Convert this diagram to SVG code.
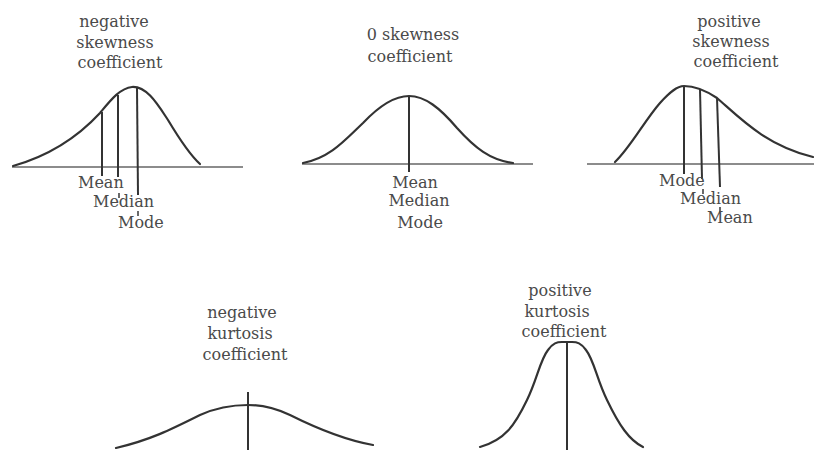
<svg xmlns="http://www.w3.org/2000/svg" width="814" height="450" viewBox="0 0 814 450">
<style>
text{font-family:"DejaVu Serif","Liberation Serif",serif;font-size:16px;fill:#4a4a4a}
.c{text-anchor:middle}
.curve{fill:none;stroke:#333;stroke-width:2.2;stroke-linecap:round}
.axis{fill:none;stroke:#666;stroke-width:1.3}
.v{fill:none;stroke:#333;stroke-width:2}
.t{fill:none;stroke:#444;stroke-width:1.6}
</style>
<rect width="814" height="450" fill="#fff"/>
<g id="neg-skew">
<text class="c" x="114" y="27">negative</text>
<text class="c" x="115" y="48">skewness</text>
<text class="c" x="120" y="68">coefficient</text>
<line class="axis" x1="12" y1="167" x2="243" y2="167"/>
<path class="curve" d="M13,166 C45,157 75,140 100,113 C110,101 120,88 132,87 C147,86 158,105 168,120 C180,140 190,155 200,164"/>
<line class="v" x1="102" y1="112" x2="102" y2="176"/>
<line class="v" x1="118" y1="95" x2="118" y2="177"/>
<line class="v" x1="137" y1="88" x2="138" y2="195"/>
<text x="78" y="188">Mean</text>
<line class="t" x1="119" y1="193" x2="119" y2="198"/>
<text x="93" y="207">Median</text>
<line class="t" x1="138" y1="211" x2="138" y2="216"/>
<text x="118" y="228">Mode</text>
</g>
<g id="zero-skew">
<text class="c" x="413" y="40">0 skewness</text>
<text class="c" x="410" y="62">coefficient</text>
<line class="axis" x1="302" y1="164" x2="533" y2="164"/>
<path class="curve" d="M303,163 C330,158 345,140 363,123 C380,105 395,96 409,96 C425,96 440,108 457,128 C475,148 490,160 513,163"/>
<line class="v" x1="409" y1="96" x2="409" y2="172"/>
<text class="c" x="415" y="188">Mean</text>
<text class="c" x="419" y="206">Median</text>
<text class="c" x="420" y="228">Mode</text>
</g>
<g id="pos-skew">
<text class="c" x="729" y="27">positive</text>
<text class="c" x="731" y="47">skewness</text>
<text class="c" x="736" y="67">coefficient</text>
<line class="axis" x1="587" y1="164" x2="814" y2="164"/>
<path class="curve" d="M615,162 C630,148 645,120 660,103 C670,92 677,86 684,86 C695,86 705,90 717,98 C740,118 765,145 813,157"/>
<line class="v" x1="684" y1="86" x2="684" y2="174"/>
<line class="v" x1="700" y1="89" x2="702" y2="179"/>
<line class="v" x1="717" y1="98" x2="720" y2="187"/>
<text x="659" y="186">Mode</text>
<line class="t" x1="703" y1="189" x2="703" y2="194"/>
<text x="680" y="204">Median</text>
<line class="t" x1="720" y1="207" x2="720" y2="212"/>
<text x="707" y="223">Mean</text>
</g>
<g id="neg-kurt">
<text class="c" x="242" y="318">negative</text>
<text class="c" x="240" y="339">kurtosis</text>
<text class="c" x="245" y="360">coefficient</text>
<path class="curve" d="M116,448 C150,440 170,430 200,415 C220,406 235,405 248,405 C262,405 275,408 290,415 C320,430 345,440 373,445"/>
<line class="v" x1="248" y1="392" x2="248" y2="450"/>
</g>
<g id="pos-kurt">
<text class="c" x="560" y="296">positive</text>
<text class="c" x="557" y="317">kurtosis</text>
<text class="c" x="564" y="337">coefficient</text>
<path class="curve" d="M480,447 C505,440 515,425 527,400 C537,380 540,360 548,350 C553,343 557,342 562,342 L572,342 C577,342 581,343 586,350 C594,360 597,380 607,400 C619,425 629,440 643,447"/>
<line class="v" x1="567" y1="342" x2="567" y2="450"/>
</g>
</svg>
